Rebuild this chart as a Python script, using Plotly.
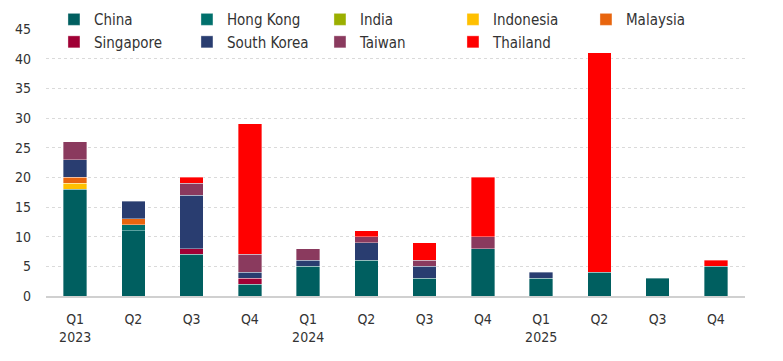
import plotly.graph_objects as go

quarters = ["Q1 2023", "Q2 2023", "Q3 2023", "Q4 2023",
            "Q1 2024", "Q2 2024", "Q3 2024", "Q4 2024",
            "Q1 2025", "Q2 2025", "Q3 2025", "Q4 2025"]
tick_labels = ["Q1<br>2023", "Q2", "Q3", "Q4",
               "Q1<br>2024", "Q2", "Q3", "Q4",
               "Q1<br>2025", "Q2", "Q3", "Q4"]

china       = [18, 11, 7, 2, 5, 6, 3, 8, 3, 4, 3, 5]
hong_kong   = [0, 1, 0, 0, 0, 0, 0, 0, 0, 0, 0, 0]
india       = [0, 0, 0, 0, 0, 0, 0, 0, 0, 0, 0, 0]
indonesia   = [1, 0, 0, 0, 0, 0, 0, 0, 0, 0, 0, 0]
malaysia    = [1, 1, 0, 0, 0, 0, 0, 0, 0, 0, 0, 0]
singapore   = [0, 0, 1, 1, 0, 0, 0, 0, 0, 0, 0, 0]
south_korea = [3, 3, 9, 1, 1, 3, 2, 0, 1, 0, 0, 0]
taiwan      = [3, 0, 2, 3, 2, 1, 1, 2, 0, 0, 0, 0]
thailand    = [0, 0, 1, 22, 0, 1, 3, 10, 0, 37, 0, 1]

series = [
    ("China", china, "#005F60"),
    ("Hong Kong", hong_kong, "#00706C"),
    ("India", india, "#9BAF00"),
    ("Indonesia", indonesia, "#FFC000"),
    ("Malaysia", malaysia, "#E8650E"),
    ("Singapore", singapore, "#A00035"),
    ("South Korea", south_korea, "#293D70"),
    ("Taiwan", taiwan, "#8A3A5E"),
    ("Thailand", thailand, "#FF0000"),
]

FONT = "DejaVu Sans Condensed, Liberation Sans Narrow, sans-serif"

fig = go.Figure()
for name, vals, color in series:
    fig.add_trace(go.Bar(
        x=quarters,
        y=[v if v else None for v in vals],
        name=name,
        marker=dict(color=color, line=dict(color="rgba(255,255,255,0.45)", width=0.8)),
    ))

fig.update_layout(
    barmode="stack",
    bargap=0.6,
    width=783, height=361,
    margin=dict(l=38, r=46, t=21, b=73, autoexpand=False),
    paper_bgcolor="white",
    plot_bgcolor="white",
    font=dict(family=FONT, size=14, color="#333333"),
    legend=dict(
        orientation="h",
        x=0.0114, y=1.097, xanchor="left", yanchor="top",
        bgcolor="rgba(0,0,0,0)",
        entrywidth=88, entrywidthmode="pixels",
        font=dict(family=FONT, size=15, color="#333333"),
        traceorder="normal",
        tracegroupgap=0,
    ),
    xaxis=dict(
        tickmode="array", tickvals=quarters, ticktext=tick_labels,
        showgrid=False, ticks="", showline=True, linecolor="#D0D0D0", linewidth=2,
        ticklabelstandoff=9,
        tickfont=dict(size=14, color="#333333"),
    ),
    yaxis=dict(
        range=[0, 45], tickvals=[0, 5, 10, 15, 20, 25, 30, 35, 40, 45],
        showgrid=True, gridcolor="#DADADA", griddash="dot", gridwidth=1,
        zeroline=False, showline=False, ticks="",
        ticklabelstandoff=14,
        tickfont=dict(size=14, color="#333333"),
    ),
    showlegend=True,
)

fig.write_html("out.html")
